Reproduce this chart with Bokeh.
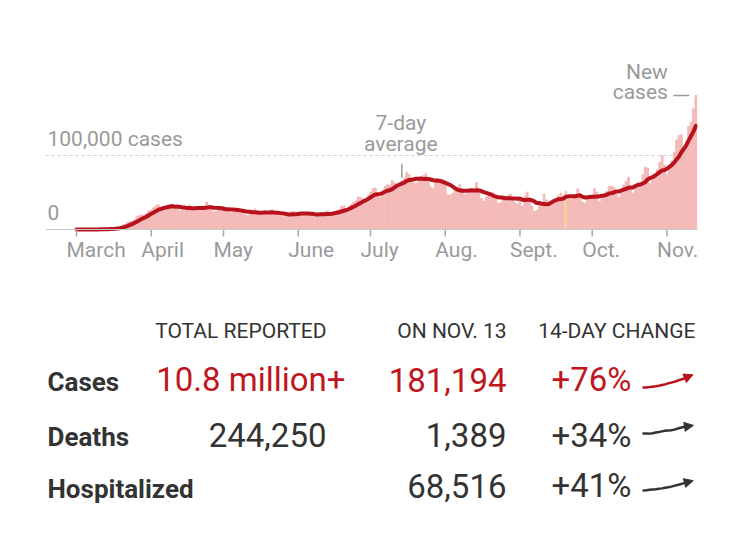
import numpy as np
import pandas as pd
from bokeh.plotting import figure
from bokeh.layouts import column
from bokeh.models import Range1d, Span, ColumnDataSource, Arrow, NormalHead
from bokeh.core.properties import value
from bokeh.embed import file_html
from bokeh.resources import INLINE

FONT = "Roboto"

# ---------------------------------------------------------------- data
# U.S. daily new cases, March 1 - Nov. 13, 2020
cases_mar = [20, 30, 40, 50, 80, 110, 110, 140, 160, 300,
             420, 500, 650, 700, 900, 1200, 1800, 2700, 4500, 5800,
             6900, 9000, 10500, 10800, 13000, 17500, 18600, 19700, 19400, 21200,
             25300]
cases_apr = [26500, 29500, 32000, 33500, 26000, 29000, 31000, 31500, 34000, 34000,
             30500, 27500, 25000, 26500, 29500, 31000, 33000, 29500, 26000, 28000,
             26500, 28500, 31500, 37000, 33000, 26500, 23500, 24500, 27000, 30500]
cases_may = [31000, 28500, 25500, 22500, 23500, 25000, 28500, 27500, 25500, 20500,
             18500, 22000, 21000, 27500, 25500, 24500, 19500, 22000, 20500, 22000,
             27000, 24500, 22000, 19500, 18000, 17500, 19000, 22000, 24000, 24500,
             20000]
cases_jun = [20500, 20500, 20000, 21500, 24000, 23000, 18500, 17500, 18500, 21000,
             22500, 23500, 25000, 19500, 19000, 23000, 25500, 27000, 31500, 32000,
             26500, 28000, 34000, 37000, 39000, 44000, 43500, 40500, 39500, 46000]
cases_jul = [50500, 55000, 56000, 46500, 43500, 47500, 58000, 60500, 60000, 66500,
             63000, 59000, 58500, 66000, 69500, 77000, 74500, 67000, 63000, 62500,
             66000, 71500, 73000, 76000, 66500, 57500, 55500, 64500, 69000, 68500,
             68000]
cases_aug = [59500, 47000, 46500, 49000, 53000, 55000, 60500, 55000, 47000, 48000,
             51000, 54500, 52500, 63500, 52000, 42000, 38000, 44000, 46500, 46000,
             49500, 45500, 35500, 36000, 40500, 43500, 45500, 48000, 43500, 36000,
             34500]
cases_sep = [41500, 31500, 44500, 50500, 42500, 31500, 24500, 25500, 32500, 36000,
             48000, 40000, 35000, 37500, 40000, 40500, 45500, 49000, 44500, 52000,
             41000, 41000, 41500, 45000, 55000, 48000, 37000, 35500, 43000, 44500]
cases_oct = [46500, 55000, 50500, 37500, 43000, 44500, 51500, 58500, 58500, 56500,
             47500, 43500, 52500, 60000, 65000, 70500, 57500, 49000, 59000, 61500,
             63500, 74000, 84000, 83000, 62000, 67000, 75000, 80500, 90500, 100000,
             87000]
cases_nov = [74500, 84000, 92500, 104000, 121000, 127000, 128000, 106000, 118000, 139000,
             145000, 163000, 181194]

# day whose count includes a reporting backlog
backlog_day = "2020-09-20"

month_labels = ["March", "April", "May", "June", "July", "Aug.", "Sept.", "Oct.", "Nov."]
y_label_values = [0, 100000]
y_labels = ["0", "100,000 cases"]

# summary table
headers = ["TOTAL REPORTED", "ON NOV. 13", "14-DAY CHANGE"]
row_names = ["Cases", "Deaths", "Hospitalized"]
totals = ["10.8 million+", "244,250", ""]
on_day = ["181,194", "1,389", "68,516"]
changes = ["+76%", "+34%", "+41%"]

# 7-day averages over the last two weeks (Oct. 30 - Nov. 13)
deaths_trend = [820, 825, 815, 830, 860, 880, 905, 930, 940, 950, 975, 1010, 1050, 1080, 1100]
hosp_trend = [48600, 49300, 50200, 50900, 51700, 52800, 53900, 55300, 56700, 58300,
              60200, 62100, 64300, 66400, 68516]

# ---------------------------------------------------------------- derived series
dates = pd.date_range("2020-03-01", "2020-11-13", freq="D")
daily = np.array(cases_mar + cases_apr + cases_may + cases_jun + cases_jul +
                 cases_aug + cases_sep + cases_oct + cases_nov, dtype=float)
assert len(daily) == len(dates)
day = np.arange(len(dates))
avg = pd.Series(daily).rolling(7, min_periods=1).mean().to_numpy()

RED = "#bf1620"
LINE_RED = "#b8131c"
BAR = "#f3b9b7"
BAR_BACKLOG = "#f5d2a0"
GRAY = "#9a9a9a"
DARK = "#333333"

bar_colors = [BAR_BACKLOG if d == pd.Timestamp(backlog_day) else BAR for d in dates]
src = ColumnDataSource(dict(day=day, cases=daily, color=bar_colors))

# ---------------------------------------------------------------- chart geometry
PX_PER_DAY = 2.41
PX_PER_CASE = 74 / 100000
FRAME_L, FRAME_R, DAY0_PX = 45, 697, 76
CHART_W, CHART_H, BASE_PX = 743, 290, 229


def px(n):
    """Screen pixels expressed in case units."""
    return n / PX_PER_CASE


x_rng = Range1d(-(DAY0_PX - FRAME_L) / PX_PER_DAY, (FRAME_R - DAY0_PX) / PX_PER_DAY)
y_rng = Range1d(-px(CHART_H - BASE_PX), px(BASE_PX))

p = figure(width=CHART_W, height=CHART_H, x_range=x_rng, y_range=y_rng,
           title=None, x_axis_location=None, y_axis_location=None,
           output_backend="svg", toolbar_location=None,
           min_border_left=FRAME_L, min_border_right=CHART_W - FRAME_R,
           min_border_top=0, min_border_bottom=0)
p.grid.visible = False
p.outline_line_color = None
p.background_fill_color = "white"
p.border_fill_color = "white"

p.add_layout(Span(location=100000, dimension="width", line_color="#cfcfcf",
                  line_dash="3 3", line_width=1, level="underlay"))

p.vbar(x="day", top="cases", width=0.72, color="color", source=src)
p.add_layout(Span(location=0, dimension="width", line_color="#c8c8c8", line_width=1))
p.line(day, avg, line_color=LINE_RED, line_width=4, line_join="round", line_cap="round")

# month ticks and labels beneath the baseline
month_idx = [int(i) for i in day[dates.day == 1]]
p.segment(x0=month_idx, y0=[0] * len(month_idx), x1=month_idx,
          y1=[-px(7)] * len(month_idx), line_color="#a8a8a8", line_width=1.5)

label_kw = dict(text_font=value(FONT), text_font_size="21px", text_color=GRAY,
                text_baseline="middle")

p.text(x=month_idx, y=[0] * len(month_idx), text=month_labels,
       x_offset=-10, y_offset=20, text_align="left", **label_kw)

p.text(x=[x_rng.start] * len(y_labels), y=y_label_values, text=y_labels,
       x_offset=2, y_offset=-17, text_align="left", **label_kw)

# "7-day average" callout
ann = int(np.where(dates == pd.Timestamp("2020-07-14"))[0][0])
p.segment(x0=[ann], y0=[avg[ann] + px(6)], x1=[ann], y1=[avg[ann] + px(20)],
          line_color=GRAY, line_width=1.5)
p.text(x=[ann], y=[avg[ann]], text=["7-day"], y_offset=-61, x_offset=-1,
       text_align="center", **label_kw)
p.text(x=[ann], y=[avg[ann]], text=["average"], y_offset=-40, x_offset=-1,
       text_align="center", **label_kw)

# "New cases" callout pointing at the latest bar
last = int(day[-1])
p.segment(x0=[last - 9.3], y0=[daily[last]], x1=[last - 2.7], y1=[daily[last]],
          line_color=GRAY, line_width=1.5)
p.text(x=[last], y=[daily[last]], text=["New"], x_offset=-28, y_offset=-23,
       text_align="right", **label_kw)
p.text(x=[last], y=[daily[last]], text=["cases"], x_offset=-28, y_offset=-3,
       text_align="right", **label_kw)

# ---------------------------------------------------------------- summary table
TABLE_H = 533 - CHART_H
t = figure(width=CHART_W, height=TABLE_H, x_range=Range1d(FRAME_L, FRAME_R),
           y_range=Range1d(533, CHART_H), title=None,
           x_axis_location=None, y_axis_location=None,
           output_backend="svg", toolbar_location=None,
           min_border_left=FRAME_L, min_border_right=CHART_W - FRAME_R,
           min_border_top=0, min_border_bottom=0)
t.grid.visible = False
t.outline_line_color = None
t.background_fill_color = "white"
t.border_fill_color = "white"

HEAD_Y = 330.5
NUM_Y = [379, 434.5, 485]
NAME_Y = [381.5, 436, 488]
head_x = [326, 506, 695]
total_x = [345, 326, 326]
ON_DAY_X = 506
CHANGE_X = 631

t.text(x=head_x, y=[HEAD_Y] * 3, text=headers, text_align="right",
       text_baseline="middle", text_font=value(FONT), text_font_size="21px",
       text_color=DARK)

for i, name in enumerate(row_names):
    color = RED if i == 0 else DARK
    num_kw = dict(text_baseline="middle", text_font=value(FONT),
                  text_font_size="33px", text_color=color, text_align="right")
    t.text(x=[47], y=[NAME_Y[i]], text=[name], text_align="left",
           text_baseline="middle", text_font=value(FONT), text_font_size="26px",
           text_font_style="bold", text_color=DARK)
    if totals[i]:
        t.text(x=[total_x[i]], y=[NUM_Y[i]], text=[totals[i]], **num_kw)
    t.text(x=[ON_DAY_X], y=[NUM_Y[i]], text=[on_day[i]], **num_kw)
    t.text(x=[CHANGE_X], y=[NUM_Y[i]], text=[changes[i]], **num_kw)


def spark(vals, x_left, x_right, y_start, rise):
    v = np.asarray(vals, dtype=float)
    xs = np.linspace(x_left, x_right, len(v))
    ys = y_start - (v - v[0]) / (v[-1] - v[0]) * rise
    return xs, ys


trends = [avg[-15:], deaths_trend, hosp_trend]
spark_y = [387, 433, 490]
spark_rise = [10, 7, 8]
for i, vals in enumerate(trends):
    color = LINE_RED if i == 0 else DARK
    xs, ys = spark(vals, 643, 686, spark_y[i], spark_rise[i])
    t.line(xs, ys, line_color=color, line_width=2.5, line_join="round", line_cap="round")
    dx, dy = xs[-1] - xs[-2], ys[-1] - ys[-2]
    n = np.hypot(dx, dy)
    t.add_layout(Arrow(end=NormalHead(size=9, fill_color=color, line_color=color, line_width=1),
                       x_start=xs[-1] - dx / n, y_start=ys[-1] - dy / n,
                       x_end=xs[-1] + dx / n * 7, y_end=ys[-1] + dy / n * 7,
                       line_color=color, line_width=2.5))

layout = column(p, t, spacing=0)
open("out.html", "w").write(file_html(layout, INLINE))
